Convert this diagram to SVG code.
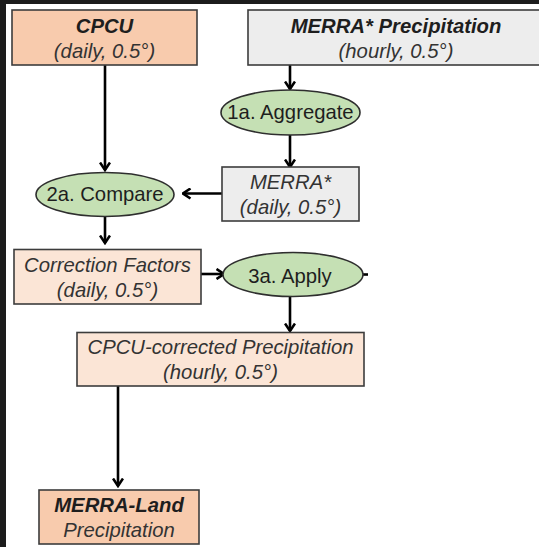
<svg xmlns="http://www.w3.org/2000/svg" width="539" height="547" viewBox="0 0 539 547">
<style>
.box{stroke:#3c3c3c;stroke-width:1.6}
.peach{fill:#f8cbad}
.light{fill:#fbe5d6}
.gray{fill:#ededed}
.ell{fill:#c5e0b4;stroke:#2e2e2e;stroke-width:1.6}
text{font-family:"Liberation Sans",Arial,sans-serif;font-size:20.3px;fill:#1e1e1e;text-anchor:middle}
.bi{font-weight:bold;font-style:italic}
.i{font-style:italic;fill:#333}
.r{fill:#1e1e1e}
.c{fill:none;stroke:#000;stroke-width:2.6}
</style>
<defs>
<marker id="ah" viewBox="0 0 10 12" refX="8.5" refY="6" markerWidth="10" markerHeight="12" markerUnits="userSpaceOnUse" orient="auto">
<path d="M1,1 L8.5,6 L1,11" fill="none" stroke="#000" stroke-width="2.6"/>
</marker>
</defs>
<rect x="0" y="0" width="539" height="547" fill="#fff"/>
<rect x="0" y="0" width="539" height="4" fill="#1c1c1c"/>
<rect x="0" y="0" width="6" height="547" fill="#1c1c1c"/>

<g id="connectors">
<path class="c" d="M105,65 L105,170" marker-end="url(#ah)"/>
<path class="c" d="M290,65 L290,89" marker-end="url(#ah)"/>
<path class="c" d="M290,135 L290,167" marker-end="url(#ah)"/>
<path class="c" d="M222,193.5 L183,193.5" marker-end="url(#ah)"/>
<path class="c" d="M105,217 L105,243" marker-end="url(#ah)"/>
<path class="c" d="M201,274 L224,274" marker-end="url(#ah)"/>
<path class="c" d="M290,297 L290,331" marker-end="url(#ah)"/>
<path class="c" d="M118,386 L118,486" marker-end="url(#ah)"/>
<path class="c" d="M363,274.5 L368,274.5"/>
</g>

<g id="cpcu">
<rect class="box peach" x="12" y="10" width="185" height="55"/>
<text class="bi" x="104.5" y="33">CPCU</text>
<text class="i" x="104.5" y="58">(daily, 0.5°)</text>
</g>

<g id="merra-precip">
<rect class="box gray" x="248" y="10" width="296" height="55"/>
<text class="bi" x="396" y="33">MERRA* Precipitation</text>
<text class="i" x="396" y="58">(hourly, 0.5°)</text>
</g>

<g id="aggregate">
<ellipse class="ell" cx="290.5" cy="112.5" rx="69.5" ry="22.5"/>
<text class="r" x="290.5" y="119">1a. Aggregate</text>
</g>

<g id="merra-daily">
<rect class="box gray" x="222" y="167" width="137" height="54"/>
<text class="i" x="290.5" y="189">MERRA*</text>
<text class="i" x="290.5" y="214">(daily, 0.5°)</text>
</g>

<g id="compare">
<ellipse class="ell" cx="105" cy="194.5" rx="69" ry="22"/>
<text class="r" x="105" y="201">2a. Compare</text>
</g>

<g id="correction">
<rect class="box light" x="14" y="249.5" width="187" height="54.5"/>
<text class="i" x="107.5" y="272">Correction Factors</text>
<text class="i" x="107.5" y="297">(daily, 0.5°)</text>
</g>

<g id="apply">
<ellipse class="ell" cx="293" cy="274.5" rx="70" ry="22"/>
<text class="r" x="290" y="282.5">3a. Apply</text>
</g>

<g id="corrected">
<rect class="box light" x="77" y="332.5" width="287" height="53.5"/>
<text class="i" x="220.5" y="354">CPCU-corrected Precipitation</text>
<text class="i" x="220.5" y="379">(hourly, 0.5°)</text>
</g>

<g id="merra-land">
<rect class="box peach" x="39" y="490" width="160" height="54"/>
<text class="bi" x="119" y="512">MERRA-Land</text>
<text class="i" x="119" y="537">Precipitation</text>
</g>
</svg>
